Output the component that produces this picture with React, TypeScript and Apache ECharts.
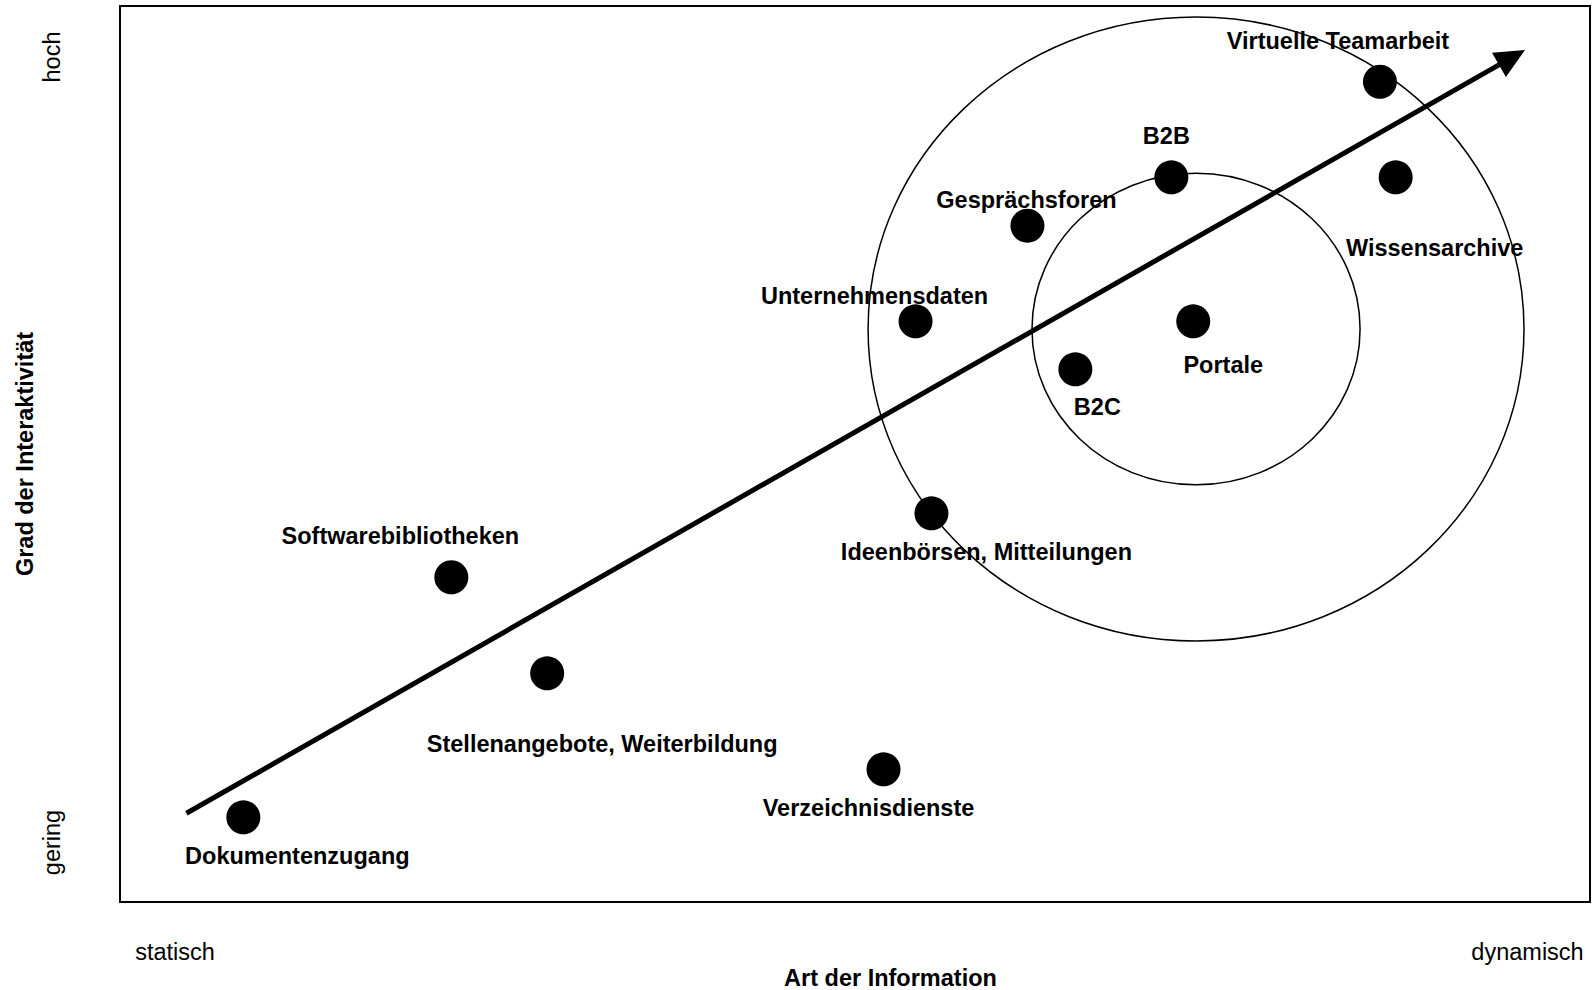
import React, { useEffect, useRef } from 'react';
import * as echarts from 'echarts';

// ---- data ----
const categories = [
  'Dokumentenzugang',
  'Softwarebibliotheken',
  'Stellenangebote, Weiterbildung',
  'Verzeichnisdienste',
  'Ideenbörsen, Mitteilungen',
  'Unternehmensdaten',
  'Gesprächsforen',
  'B2B',
  'B2C',
  'Portale',
  'Virtuelle Teamarbeit',
  'Wissensarchive',
];
const xValues = [8.39, 22.54, 29.06, 51.94, 55.2, 54.12, 61.73, 71.52, 64.99, 73.01, 85.71, 86.78];
const yValues = [9.45, 36.24, 25.52, 14.81, 43.38, 64.81, 75.48, 80.88, 59.45, 64.81, 91.55, 80.88];

const xTickLabels = ['statisch', 'dynamisch'];
const xTickValues = [3.74, 95.75];
const yTickLabels = ['gering', 'hoch'];
const yTickValues = [6.64, 94.31];
const xAxisTitle = 'Art der Information';
const yAxisTitle = 'Grad der Interaktivität';

// rings (ellipses) around the portal cluster
const ringCx = [73.2, 73.2];
const ringCy = [63.95, 63.95];
const ringRx = [22.31, 11.16];
const ringRy = [34.82, 17.39];

// trend arrow
const arrowFrom = [4.52, 9.9];
const arrowTo = [95.58, 95.09];

// ---- layout (label offsets in px) ----
const labelOffsets: number[][] = [
  [54, 39], [-51, -41], [55, 71], [-15, 39], [55, 39], [-41, -25],
  [-1, -26], [-5, -41], [22, 38], [30, 44], [-42, -41], [39, 71],
];

const FONT = '"Liberation Sans", Arial, Helvetica, sans-serif';

function pick(values: number[], labels: string[], v: number) {
  for (let i = 0; i < values.length; i++) {
    if (Math.abs(values[i] - v) < 1e-6) return labels[i];
  }
  return '';
}

export default function App() {
  const ref = useRef<HTMLDivElement>(null);
  useEffect(() => {
    if (!ref.current) return;
    const chart = echarts.init(ref.current, undefined, { renderer: 'svg' });
    const option: any = {
      animation: false,
      backgroundColor: '#fff',
      textStyle: { fontFamily: FONT },
      grid: {
        left: 120,
        top: 6,
        right: 3,
        bottom: 88,
        containLabel: false,
        outerBoundsMode: 'none',
        show: true,
        borderColor: '#000',
        borderWidth: 2,
        backgroundColor: 'transparent',
      },
      xAxis: {
        type: 'value',
        min: 0,
        max: 100,
        axisLine: { show: false },
        axisTick: { show: false },
        splitLine: { show: false },
        axisLabel: {
          customValues: xTickValues,
          formatter: (v: number) => pick(xTickValues, xTickLabels, v),
          fontSize: 23.5,
          fontFamily: FONT,
          color: '#000',
          margin: 37,
          lineHeight: 26,
        },
        name: xAxisTitle,
        nameLocation: 'middle',
        nameGap: 64,
        nameMoveOverlap: false,
        nameTextStyle: {
          fontSize: 23.5,
          fontWeight: 'bold',
          fontFamily: FONT,
          color: '#000',
          lineHeight: 23.5,
          padding: [0, 0, 0, 71],
        },
      },
      yAxis: {
        type: 'value',
        min: 0,
        max: 100,
        axisLine: { show: false },
        axisTick: { show: false },
        splitLine: { show: false },
        axisLabel: {
          customValues: yTickValues,
          formatter: (v: number) => pick(yTickValues, yTickLabels, v),
          rotate: 90,
          fontSize: 23.5,
          fontFamily: FONT,
          color: '#000',
          margin: 55,
          lineHeight: 26,
        },
        name: yAxisTitle,
        nameLocation: 'middle',
        nameGap: 82,
        nameMoveOverlap: false,
        nameTextStyle: {
          fontSize: 23.5,
          fontWeight: 'bold',
          fontFamily: FONT,
          color: '#000',
          lineHeight: 26,
        },
      },
      series: [
        {
          type: 'custom',
          name: 'rings',
          silent: true,
          data: ringCx.map((cx, i) => [cx, ringCy[i], ringRx[i], ringRy[i]]),
          encode: { x: 0, y: 1 },
          renderItem: (params: any, api: any) => {
            const c = api.coord([api.value(0), api.value(1)]);
            const s = api.size([api.value(2), api.value(3)]);
            return {
              type: 'ellipse',
              shape: { cx: c[0], cy: c[1], rx: s[0], ry: s[1] },
              style: { fill: 'none', stroke: '#000', lineWidth: 1.5 },
            };
          },
          z: 1,
        },
        {
          type: 'custom',
          name: 'arrow',
          silent: true,
          data: [[arrowFrom[0], arrowFrom[1], arrowTo[0], arrowTo[1]]],
          encode: { x: [0, 2], y: [1, 3] },
          renderItem: (params: any, api: any) => {
            const p1 = api.coord([api.value(0), api.value(1)]);
            const p2 = api.coord([api.value(2), api.value(3)]);
            const dx = p2[0] - p1[0];
            const dy = p2[1] - p1[1];
            const len = Math.hypot(dx, dy);
            const ux = dx / len;
            const uy = dy / len;
            const L = 30;
            const W = 14;
            const bx = p2[0] - ux * L;
            const by = p2[1] - uy * L;
            const nx = -uy;
            const ny = ux;
            return {
              type: 'group',
              children: [
                {
                  type: 'line',
                  shape: { x1: p1[0], y1: p1[1], x2: bx + ux * 3, y2: by + uy * 3 },
                  style: { stroke: '#000', lineWidth: 5 },
                },
                {
                  type: 'polygon',
                  shape: {
                    points: [
                      [p2[0], p2[1]],
                      [bx + nx * W, by + ny * W],
                      [bx - nx * W, by - ny * W],
                    ],
                  },
                  style: { fill: '#000' },
                },
              ],
            };
          },
          z: 2,
        },
        {
          type: 'scatter',
          name: 'items',
          symbol: 'circle',
          symbolSize: 34,
          itemStyle: { color: '#000', opacity: 1 },
          z: 3,
          data: categories.map((name, i) => ({
            name,
            value: [xValues[i], yValues[i]],
            label: {
              show: true,
              formatter: name,
              position: 'inside',
              align: 'center',
              verticalAlign: 'middle',
              offset: labelOffsets[i],
              color: '#000',
              opacity: 1,
              fontSize: 23.5,
              fontWeight: 'bold',
              fontFamily: FONT,
            },
          })),
        },
      ],
    };
    chart.setOption(option);
    return () => chart.dispose();
  }, []);
  return (
    <div
      ref={ref}
      style={{ position: 'absolute', left: 0, top: 0, width: 1593, height: 990, background: '#fff' }}
    />
  );
}
